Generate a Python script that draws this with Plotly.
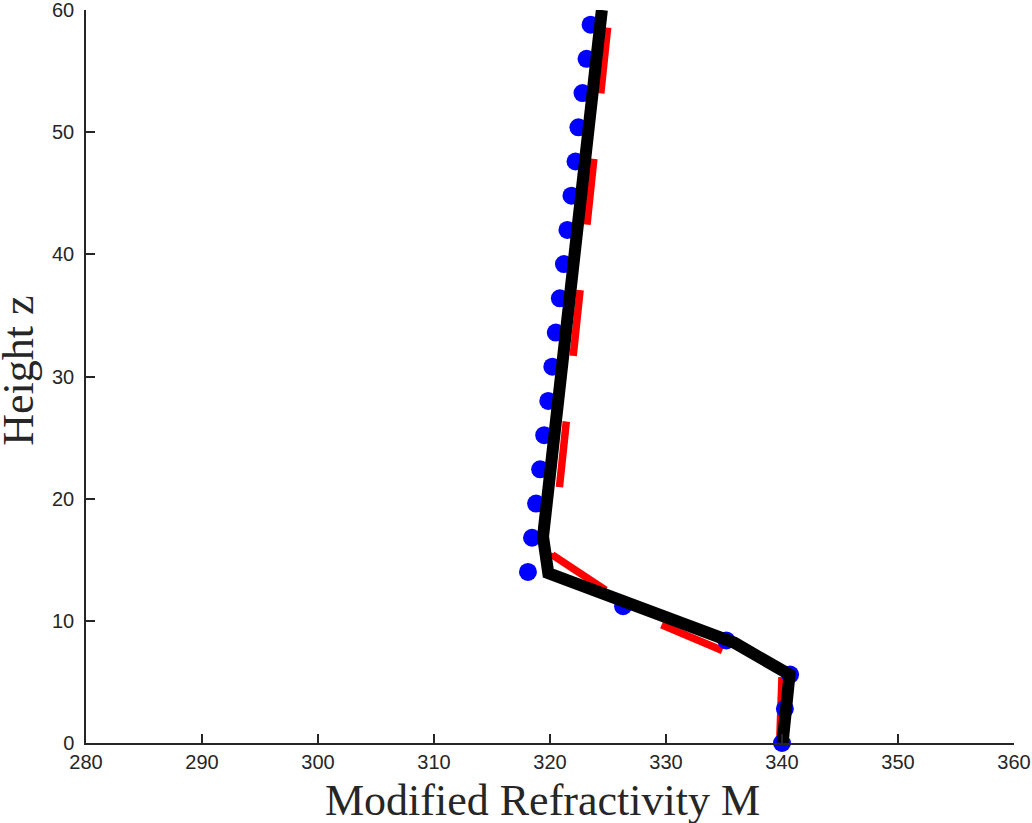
import plotly.graph_objects as go

# ---- data ----
dots_z = [0.0, 2.8, 5.6, 8.4, 11.2, 14.0, 16.8, 19.6, 22.4, 25.2, 28.0, 30.8,
          33.6, 36.4, 39.2, 42.0, 44.8, 47.6, 50.4, 53.2, 56.0, 58.8]
dots_m = [340.0, 340.25, 340.7, 335.2, 326.3, 318.1, 318.45, 318.8, 319.15, 319.5,
          319.85, 320.2, 320.5, 320.85, 321.2, 321.5, 321.85, 322.2, 322.45,
          322.8, 323.15, 323.5]

red_z = [0.0, 5.5, 10.0, 15.4, 60.0]
red_m = [339.8, 340.0, 328.8, 320.2, 325.13]

black_z = [0.0, 5.6, 8.2, 13.9, 16.9, 60.0]
black_m = [340.05, 340.65, 335.9, 319.85, 319.4, 324.47]

x_ticks = [280, 290, 300, 310, 320, 330, 340, 350, 360]
y_ticks = [0, 10, 20, 30, 40, 50, 60]

x_title = "Modified Refractivity M"
y_title = "Height z"

axis_color = "#262626"

fig = go.Figure()

fig.add_trace(go.Scatter(
    x=red_m, y=red_z, mode="lines",
    line=dict(color="#ff0000", width=7.5, dash="66px,66px"),
    showlegend=False, hoverinfo="skip"))

fig.add_trace(go.Scatter(
    x=dots_m, y=dots_z, mode="markers",
    marker=dict(color="#0000ff", size=18, line=dict(width=0)),
    showlegend=False, cliponaxis=False))

fig.add_trace(go.Scatter(
    x=black_m, y=black_z, mode="lines",
    line=dict(color="#000000", width=12),
    showlegend=False))

axis_common = dict(
    showgrid=False, zeroline=False, showline=True, linecolor=axis_color,
    linewidth=1.5, ticks="inside", ticklen=9, tickwidth=1.5, tickcolor=axis_color,
    tickfont=dict(family="Liberation Sans, Arial, sans-serif", size=20, color=axis_color),
    mirror=False, ticklabeloverflow="allow", automargin=False,
)

fig.update_xaxes(range=[280, 360], tickvals=x_ticks, ticktext=[str(v) for v in x_ticks],
                 **axis_common)
fig.update_yaxes(range=[0, 60], tickvals=y_ticks, ticktext=[str(v) for v in y_ticks],
                 ticklabelstandoff=6, **axis_common)

fig.add_annotation(text=x_title, xref="paper", yref="paper", x=0.492, y=-0.078,
                   xanchor="center", yanchor="middle", showarrow=False,
                   font=dict(family="Liberation Serif, Times New Roman, serif", size=44,
                             color=axis_color))
fig.add_annotation(text=y_title, xref="paper", yref="paper", x=-0.0735, y=0.5075,
                   xanchor="center", yanchor="middle", showarrow=False, textangle=-90,
                   font=dict(family="Liberation Serif, Times New Roman, serif", size=44,
                             color=axis_color))

fig.update_layout(
    width=1032, height=823,
    margin=dict(l=86, r=18, t=10, b=80),
    plot_bgcolor="white", paper_bgcolor="white",
)

fig.write_html("out.html")
